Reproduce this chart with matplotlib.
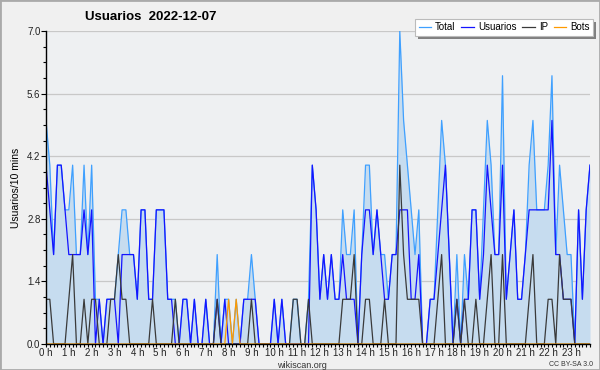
import numpy as np
import matplotlib
matplotlib.use('Agg')
import matplotlib.pyplot as plt
from matplotlib.patches import Rectangle

plt.rcParams['font.family'] = ['Liberation Sans', 'DejaVu Sans']

# 10-minute slots over the day (144 values per series)
total = [5, 4, 2, 4, 4, 3, 3, 4, 2, 2,
         4, 2, 4, 1, 1, 0, 1, 1, 1, 2,
         3, 3, 2, 2, 1, 3, 3, 1, 1, 3,
         3, 3, 1, 1, 1, 0, 1, 1, 0, 1,
         0, 0, 1, 0, 0, 2, 0, 1, 1, 0,
         1, 0, 1, 1, 2, 1, 0, 0, 0, 0,
         1, 0, 1, 0, 0, 1, 1, 0, 0, 1,
         4, 3, 1, 2, 1, 2, 1, 1, 3, 2,
         2, 3, 0, 2, 4, 4, 2, 3, 2, 2,
         1, 2, 2, 7, 5, 4, 3, 2, 3, 0,
         0, 1, 1, 3, 5, 4, 2, 0, 2, 0,
         2, 1, 3, 3, 1, 3, 5, 4, 2, 2,
         6, 1, 2, 3, 1, 1, 2, 4, 5, 3,
         3, 3, 4, 6, 2, 4, 3, 2, 2, 0,
         3, 1, 3, 4]
usuarios = [4, 3, 2, 4, 4, 3, 2, 2, 2, 2,
            3, 2, 3, 0, 1, 0, 1, 1, 1, 0,
            2, 2, 2, 2, 1, 3, 3, 1, 1, 3,
            3, 3, 1, 1, 0, 0, 1, 1, 0, 1,
            0, 0, 1, 0, 0, 1, 0, 1, 0, 0,
            0, 0, 1, 1, 1, 1, 0, 0, 0, 0,
            1, 0, 1, 0, 0, 0, 0, 0, 0, 0,
            4, 3, 1, 2, 1, 2, 1, 1, 2, 1,
            1, 1, 0, 2, 3, 3, 2, 3, 2, 1,
            1, 2, 2, 3, 3, 3, 1, 1, 2, 0,
            0, 1, 1, 2, 3, 4, 2, 0, 1, 0,
            1, 1, 3, 3, 1, 2, 4, 3, 2, 2,
            4, 1, 2, 3, 1, 1, 2, 3, 3, 3,
            3, 3, 3, 5, 2, 2, 1, 1, 1, 0,
            3, 1, 3, 4]
ip = [1, 1, 0, 0, 0, 0, 1, 2, 0, 0,
      1, 0, 1, 1, 0, 0, 0, 1, 1, 2,
      1, 1, 0, 0, 0, 0, 0, 0, 1, 0,
      0, 0, 0, 0, 1, 0, 0, 0, 0, 0,
      0, 0, 0, 0, 0, 1, 0, 0, 0, 0,
      0, 0, 0, 0, 1, 0, 0, 0, 0, 0,
      0, 0, 0, 0, 0, 1, 1, 0, 0, 1,
      0, 0, 0, 0, 0, 0, 0, 0, 1, 1,
      1, 2, 0, 0, 1, 1, 0, 0, 0, 1,
      0, 0, 0, 4, 2, 1, 1, 1, 1, 0,
      0, 0, 0, 1, 2, 0, 0, 0, 1, 0,
      1, 0, 0, 1, 0, 0, 1, 2, 0, 0,
      2, 0, 0, 0, 0, 0, 0, 1, 2, 0,
      0, 0, 1, 1, 0, 2, 1, 1, 1, 0,
      0, 0, 0, 0]
bots = [0] * 144
bots[48] = 1
bots[50] = 1

hours = [f'{h} h' for h in range(24)]
y_ticks = [0.0, 1.4, 2.8, 4.2, 5.6, 7.0]

x = np.arange(len(total))

fig = plt.figure(figsize=(6, 3.7), dpi=100, facecolor='#f0f0f0')
ax = fig.add_axes([46 / 600, 1 - 344 / 370, 544 / 600, 313 / 370])
ax.set_facecolor('#eef0f2')

ax.fill_between(x, total, 0, color='#c6dcef', lw=0)
ax.plot(x, total, color='#3fa0ff', lw=0.9, label='Total')
ax.plot(x, usuarios, color='#1414ff', lw=0.9, label='Usuarios')
ax.plot(x, ip, color='#3a3a3a', lw=0.9, label='IP')
ax.plot(x, bots, color='#ff9a00', lw=0.9, label='Bots')

ax.set_xlim(0, 143)
ax.set_ylim(0, 7)
ax.set_yticks(y_ticks)
ax.set_yticklabels([f'{v:.1f}' for v in y_ticks])
ax.set_yticks(np.arange(0, 7.01, 0.35), minor=True)
ax.set_xticks(np.arange(0, 144, 6))
ax.set_xticklabels(hours)
ax.set_xticks(np.arange(0, 144, 1), minor=True)
ax.grid(axis='y', color='#c8c8c8', lw=0.9)
ax.set_axisbelow(True)

for s in ['top', 'right']:
    ax.spines[s].set_visible(False)
for s in ['left', 'bottom']:
    ax.spines[s].set_color('black')
    ax.spines[s].set_linewidth(1.0)
    ax.spines[s].set_zorder(5)
ax.tick_params(axis='both', which='major', labelsize=7, length=3.5, width=0.8,
               pad=0.5, colors='black', labelcolor='#222222')
ax.tick_params(axis='x', which='major', length=2.5)
ax.tick_params(axis='both', which='minor', length=2.5, width=0.8)
ax.set_ylabel('Usuarios/10 mins', fontsize=7.5, labelpad=4)

fig.text(85 / 600, 1 - 17 / 370, 'Usuarios  2022-12-07', fontsize=9.5,
         fontweight='bold', va='center', ha='left')
fig.text(302 / 600, 1 - 365 / 370, 'wikiscan.org', fontsize=6.5,
         ha='center', va='center', color='#333333')
fig.text(593 / 600, 1 - 364 / 370, 'CC BY-SA 3.0', fontsize=5,
         ha='right', va='center', color='#333333')

# legend box with a grey drop shadow drawn by hand
leg = fig.legend(loc='upper right', bbox_to_anchor=(593 / 600, 1 - 19 / 370),
                 ncol=4, fontsize=7, frameon=True, fancybox=False,
                 framealpha=1, handlelength=1.3, handletextpad=0.4,
                 columnspacing=0.6, borderpad=0.35, borderaxespad=0)
leg.get_frame().set_facecolor('white')
leg.get_frame().set_edgecolor('#bbbbbb')
leg.get_frame().set_linewidth(0.8)
leg.set_zorder(10)

fig.canvas.draw()
bb = leg.get_window_extent().transformed(fig.transFigure.inverted())
dx, dy = 3 / 600, 3 / 370
fig.patches.append(Rectangle((bb.x0 + dx, bb.y0 - dy), bb.width, bb.height,
                             transform=fig.transFigure, facecolor='#808080',
                             edgecolor='none', zorder=1))

fig.patches.append(Rectangle((0, 0), 1, 1, transform=fig.transFigure,
                             fill=False, edgecolor='#aaaaaa', lw=2))

fig.savefig('out.png', dpi=100, facecolor=fig.get_facecolor())
